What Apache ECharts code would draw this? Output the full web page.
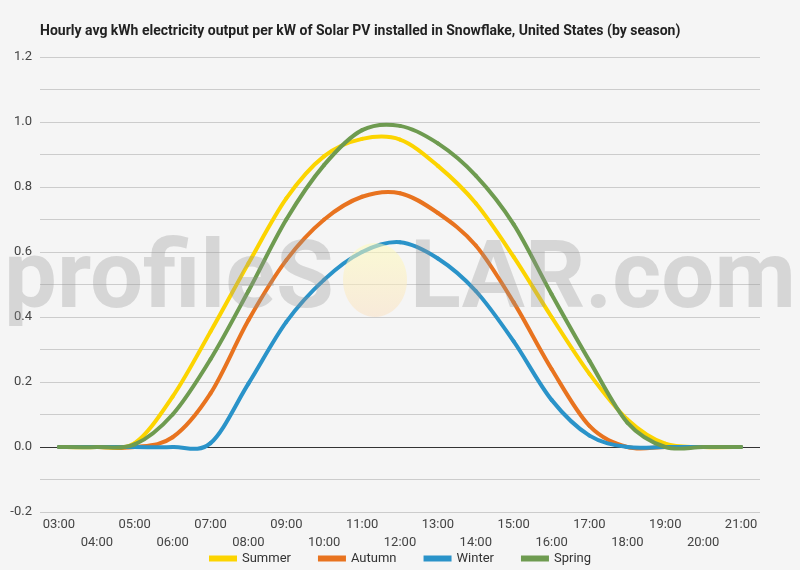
<!DOCTYPE html>
<html>
<head>
<meta charset="utf-8">
<script src="https://cdn.jsdelivr.net/npm/echarts@6/dist/echarts.min.js"></script>
<style>
  html, body { margin: 0; padding: 0; background: #f5f5f5; }
  #chart { width: 800px; height: 570px; }
</style>
</head>
<body>
<div id="chart"></div>
<script>
const hours = ['03:00', '04:00', '05:00', '06:00', '07:00', '08:00', '09:00', '10:00', '11:00', '12:00',
  '13:00', '14:00', '15:00', '16:00', '17:00', '18:00', '19:00', '20:00', '21:00'];

const summer = [0, 0, 0.012, 0.155, 0.355, 0.565, 0.765, 0.895, 0.948, 0.946, 0.865, 0.75, 0.585, 0.4, 0.225, 0.085, 0.01, 0, 0];
const autumn = [0, 0, 0, 0.03, 0.165, 0.39, 0.575, 0.7, 0.77, 0.781, 0.72, 0.62, 0.445, 0.24, 0.065, 0, 0, 0, 0];
const winter = [0, 0, 0, 0, 0.012, 0.195, 0.385, 0.515, 0.6, 0.63, 0.58, 0.48, 0.325, 0.145, 0.035, 0, 0, 0, 0];
const spring = [0, 0, 0.008, 0.1, 0.27, 0.48, 0.7, 0.868, 0.975, 0.988, 0.934, 0.835, 0.685, 0.47, 0.265, 0.075, 0, 0, 0];

const seriesNames = ['Summer', 'Autumn', 'Winter', 'Spring'];
const seriesColors = ['#fcd400', '#e8731f', '#2a93c9', '#6e9b50'];

// y ticks every 0.1, the one at 0 is drawn dark
const yTicks = [-0.2, -0.1, 0, 0.1, 0.2, 0.3, 0.4, 0.5, 0.6, 0.7, 0.8, 0.9, 1.0, 1.1, 1.2];
const splitColors = yTicks.map((t) => (t === 0 ? '#333333' : '#cccccc'));

const chart = echarts.init(document.getElementById('chart'));

// one bezier segment per hour, catmull-rom style through the hourly points
function curveSeries(name, values, color) {
  const last = values.length - 1;
  return {
    name,
    type: 'custom',
    data: values.map((v, i) => [i, v]),
    encode: { x: 0, y: 1 },
    itemStyle: { color },
    z: 3,
    renderItem(params, api) {
      const i = params.dataIndex;
      if (i >= last) {
        return null;
      }
      const pt = (k) => {
        const j = Math.max(0, Math.min(last, k));
        return api.coord([j, values[j]]);
      };
      const p0 = pt(i - 1);
      const p1 = pt(i);
      const p2 = pt(i + 1);
      const p3 = pt(i + 2);
      return {
        type: 'bezierCurve',
        shape: {
          x1: p1[0], y1: p1[1],
          x2: p2[0], y2: p2[1],
          cpx1: p1[0] + (p2[0] - p0[0]) / 6,
          cpy1: p1[1] + (p2[1] - p0[1]) / 6,
          cpx2: p2[0] - (p3[0] - p1[0]) / 6,
          cpy2: p2[1] - (p3[1] - p1[1]) / 6,
        },
        style: { stroke: color, lineWidth: 4, fill: 'none', lineCap: 'round' },
      };
    },
  };
}

chart.setOption({
  backgroundColor: '#f5f5f5',
  animation: false,
  title: {
    text: 'Hourly avg kWh electricity output per kW of Solar PV installed in Snowflake, United States (by season)',
    left: 35,
    top: 19,
    textStyle: {
      fontFamily: 'Roboto',
      fontSize: 14,
      fontWeight: 'bold',
      color: '#222',
    },
  },
  grid: { left: 40, right: 40, top: 57, bottom: 58 },
  legend: {
    bottom: 0,
    left: 'center',
    icon: 'rect',
    itemWidth: 28,
    itemHeight: 6,
    itemGap: 27,
    data: seriesNames,
    textStyle: { fontFamily: 'Roboto', fontSize: 13, color: '#333' },
  },
  xAxis: {
    type: 'category',
    data: hours,
    boundaryGap: true,
    axisLine: { show: false },
    axisTick: { show: false },
    axisLabel: {
      interval: 0,
      fontFamily: 'Roboto',
      fontSize: 13,
      color: '#444',
      lineHeight: 18,
      margin: 4,
      formatter: (v, i) => (i % 2 ? '\n' + v : v),
    },
  },
  yAxis: {
    type: 'value',
    min: -0.2,
    max: 1.2,
    interval: 0.1,
    axisLine: { show: false },
    axisTick: { show: false },
    splitLine: { lineStyle: { color: splitColors, width: 1 } },
    axisLabel: {
      fontFamily: 'Roboto',
      fontSize: 13,
      color: '#444',
      margin: 8,
      formatter: (v) => (Math.round(v * 10) % 2 ? '' : v.toFixed(1)),
    },
  },
  graphic: [
    {
      type: 'text',
      left: 4,
      top: 236,
      z: 100,
      silent: true,
      style: {
        text: 'profileS',
        font: 'bold 94px Roboto, sans-serif',
        fill: 'rgba(150,150,150,0.32)',
      },
    },
    {
      type: 'text',
      left: 410,
      top: 236,
      z: 100,
      silent: true,
      style: {
        text: 'LAR.com',
        font: 'bold 94px Roboto, sans-serif',
        fill: 'rgba(150,150,150,0.32)',
      },
    },
    {
      type: 'ellipse',
      z: 100,
      silent: true,
      shape: { cx: 375, cy: 280, rx: 32, ry: 37 },
      style: {
        fill: new echarts.graphic.LinearGradient(0, 0, 0, 1, [
          { offset: 0, color: 'rgba(255,252,185,0.55)' },
          { offset: 1, color: 'rgba(250,225,195,0.55)' },
        ]),
      },
    },
  ],
  series: [
    curveSeries('Summer', summer, seriesColors[0]),
    curveSeries('Autumn', autumn, seriesColors[1]),
    curveSeries('Winter', winter, seriesColors[2]),
    curveSeries('Spring', spring, seriesColors[3]),
  ],
});
</script>
</body>
</html>
